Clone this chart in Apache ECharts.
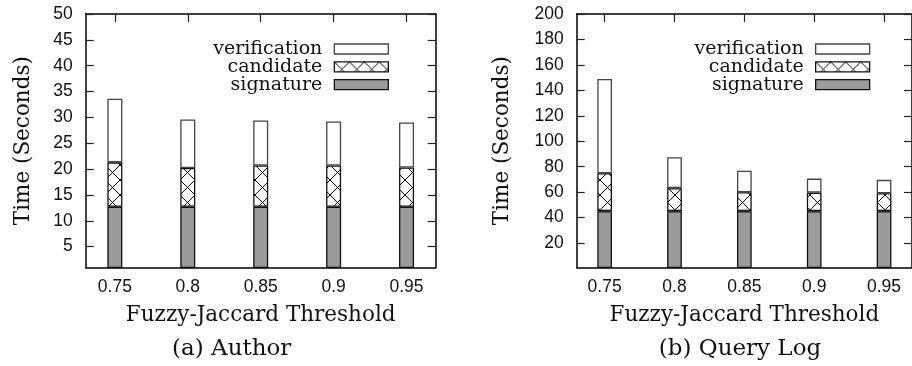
<!DOCTYPE html>
<html><head><meta charset="utf-8">
<script src="https://cdn.jsdelivr.net/npm/echarts@6/dist/echarts.min.js"></script>
<style>html,body{margin:0;padding:0;background:#fff}#c{width:912px;height:366px}</style>
</head><body><div id="c"></div>
<script>
const thresholds = [0.75, 0.8, 0.85, 0.9, 0.95];
const seriesNames = ['signature', 'candidate', 'verification'];
const legendOrder = ['verification', 'candidate', 'signature'];

const authorSignature = [12.7, 12.7, 12.7, 12.7, 12.7];
const authorCandidate = [8.6, 7.5, 8.0, 8.0, 7.6];
const authorVerification = [12.3, 9.4, 8.7, 8.5, 8.7];

const queryLogSignature = [45.1, 45.1, 45.1, 45.1, 45.1];
const queryLogCandidate = [29.8, 18.1, 14.9, 14.6, 14.1];
const queryLogVerification = [74.1, 24.3, 16.8, 11.0, 10.5];

const authorYTicks = [5, 10, 15, 20, 25, 30, 35, 40, 45, 50];
const queryLogYTicks = [20, 40, 60, 80, 100, 120, 140, 160, 180, 200];

const xAxisTitle = 'Fuzzy-Jaccard Threshold';
const yAxisTitle = 'Time (Seconds)';
const captions = ['(a) Author', '(b) Query Log'];

function hatchCanvas() {
  const s = 15;
  const c = document.createElement('canvas');
  c.width = s; c.height = s;
  const g = c.getContext('2d');
  g.fillStyle = '#fff'; g.fillRect(0, 0, s, s);
  g.strokeStyle = '#000'; g.lineWidth = 1;
  g.beginPath();
  g.moveTo(0, 0); g.lineTo(s, s);
  g.moveTo(s, 0); g.lineTo(0, s);
  g.stroke();
  return c;
}
const hatch = hatchCanvas();

const serif = 'DejaVu Serif';
const sans = 'Liberation Sans';

const styles = {
  signature: { color: '#9b9b9b', borderColor: '#111', borderWidth: 1.3 },
  candidate: { color: { image: hatch, repeat: 'repeat' }, borderColor: '#111', borderWidth: 1.3 },
  verification: { color: '#fff', borderColor: '#444', borderWidth: 1.3 }
};

// value first so that the stack runs along the y dimension; x is mapped via encode
function pairs(vals) { return thresholds.map((t, i) => [vals[i], t]); }

const axisLine = { show: true, onZero: false, lineStyle: { color: '#000', width: 1.5 } };
const tickStyle = { color: '#222', width: 1.2 };

function xAxes(grid) {
  return [
    { type: 'value', gridIndex: grid, min: 0.73, max: 0.97, position: 'bottom',
      axisLine: axisLine, splitLine: { show: false },
      axisTick: { show: true, inside: true, length: 8, lineStyle: tickStyle, customValues: thresholds },
      axisLabel: { customValues: thresholds, fontFamily: sans, fontSize: 17.5, color: '#111', margin: 11 },
      name: xAxisTitle, nameLocation: 'middle', nameGap: 37,
      nameTextStyle: { fontFamily: serif, fontSize: 21.5, color: '#111' } },
    { type: 'value', gridIndex: grid, min: 0.73, max: 0.97, position: 'top',
      axisLine: axisLine, splitLine: { show: false },
      axisTick: { show: true, inside: true, length: 8, lineStyle: tickStyle, customValues: thresholds },
      axisLabel: { show: false } }
  ];
}
function yAxes(grid, ticks, max, gap) {
  return [
    { type: 'value', gridIndex: grid, min: 1, max: max, position: 'left',
      axisLine: axisLine, splitLine: { show: false },
      axisTick: { show: true, inside: true, length: 8, lineStyle: tickStyle, customValues: ticks },
      axisLabel: { customValues: ticks, fontFamily: sans, fontSize: 17.5, color: '#111', margin: 13 },
      name: yAxisTitle, nameLocation: 'middle', nameGap: gap, nameRotate: 90,
      nameTextStyle: { fontFamily: serif, fontSize: 21.5, color: '#111' } },
    { type: 'value', gridIndex: grid, min: 1, max: max, position: 'right',
      axisLine: axisLine, splitLine: { show: false },
      axisTick: { show: true, inside: true, length: 8, lineStyle: tickStyle, customValues: ticks },
      axisLabel: { show: false } }
  ];
}

function barSeries(axisIdx, data, stackName, width) {
  return seriesNames.map((n, k) => ({
    type: 'bar', name: n, stack: stackName, xAxisIndex: axisIdx, yAxisIndex: axisIdx,
    barWidth: width, data: pairs(data[k]), encode: { x: 1, y: 0 },
    itemStyle: styles[n], clip: true,
    emphasis: { disabled: true }, animation: false
  }));
}

function legend(right) {
  return {
    data: legendOrder.map(n => ({ name: n, icon: 'rect' })),
    orient: 'vertical', align: 'right', right: right, top: 39.5,
    itemWidth: 54, itemHeight: 10, itemGap: -1.2, padding: 0, selectedMode: false,
    itemStyle: { borderWidth: 1.3 },
    textStyle: { fontFamily: serif, fontSize: 19, lineHeight: 18, color: '#111', padding: [0, 7, 0, 0] }
  };
}

const option = {
  animation: false,
  backgroundColor: '#fff',
  grid: [
    { left: 85.7, top: 14, width: 350, height: 253.3 },
    { left: 576.7, top: 14, width: 338, height: 253.3 }
  ],
  xAxis: [...xAxes(0), ...xAxes(1)],
  yAxis: [...yAxes(0, authorYTicks, 50, 51), ...yAxes(1, queryLogYTicks, 200, 63)],
  legend: [legend(523), legend(41.7)],
  title: [
    { text: captions[0], left: 231.7, top: 338, textAlign: 'center', padding: 0,
      textStyle: { fontFamily: serif, fontSize: 23, fontWeight: 'normal', color: '#111' } },
    { text: captions[1], left: 740, top: 338, textAlign: 'center', padding: 0,
      textStyle: { fontFamily: serif, fontSize: 23, fontWeight: 'normal', color: '#111' } }
  ],
  series: [
    ...barSeries(0, [authorSignature, authorCandidate, authorVerification], 'a', 15),
    ...barSeries(2, [queryLogSignature, queryLogCandidate, queryLogVerification], 'b', 14.7)
  ]
};

const chart = echarts.init(document.getElementById('c'), null, { renderer: 'canvas' });
chart.setOption(option);
</script>
</body></html>
